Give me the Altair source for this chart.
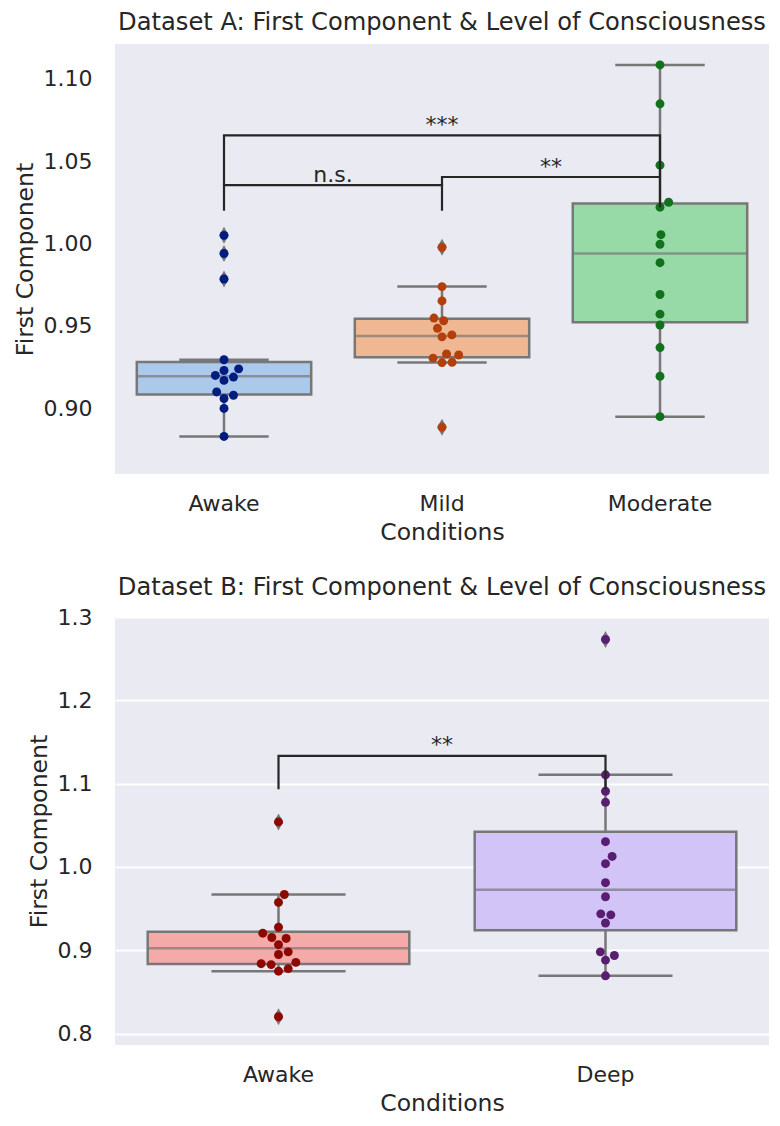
import math
import altair as alt
import pandas as pd

# ---------------- data ----------------
A_CATS = ["Awake", "Mild", "Moderate"]
A_AWAKE = [1.005, 0.994, 0.9785, 0.9295, 0.924, 0.923, 0.920, 0.919, 0.917, 0.910, 0.908, 0.906, 0.900, 0.883]
A_MILD = [0.9978, 0.9739, 0.9652, 0.9548, 0.9532, 0.9486, 0.9446, 0.9434, 0.9330, 0.9324, 0.9305, 0.9280, 0.9278, 0.8886]
A_MODERATE = [1.1084, 1.0848, 1.0476, 1.0251, 1.0221, 1.0054, 0.9996, 0.9884, 0.9691, 0.9572, 0.9506, 0.9369, 0.9195, 0.8950]

B_CATS = ["Awake", "Deep"]
B_AWAKE = [1.0540, 0.9669, 0.9575, 0.9276, 0.9205, 0.9153, 0.9142, 0.9067, 0.8981, 0.8949, 0.8855, 0.8839, 0.8828, 0.8780, 0.8749, 0.8202]
B_DEEP = [1.2731, 1.1106, 1.0909, 1.0776, 1.0303, 1.0126, 1.0039, 0.9811, 0.9642, 0.9437, 0.9425, 0.9327, 0.8981, 0.8937, 0.8882, 0.8693]

# significance brackets
A_BR_LEFT = ["Awake", "Mild", "Awake"]
A_BR_RIGHT = ["Mild", "Moderate", "Moderate"]
A_BR_LOW_L = [1.0199, 1.0355, 1.0355]
A_BR_TOP = [1.0355, 1.0404, 1.0657]
A_BR_LOW_R = [1.0199, 1.0220, 1.0404]
A_BR_TEXT = ["n.s.", "**", "***"]

B_BR_LEFT = ["Awake"]
B_BR_RIGHT = ["Deep"]
B_BR_LOW_L = [1.0933]
B_BR_TOP = [1.1334]
B_BR_LOW_R = [1.0933]
B_BR_TEXT = ["**"]

A_TICKS = [0.90, 0.95, 1.00, 1.05, 1.10]
B_TICKS = [0.8, 0.9, 1.0, 1.1, 1.2, 1.3]
A_DOMAIN = [0.8602, 1.1211]
B_DOMAIN = [0.7863, 1.3]

A_PASTEL = ["#ABC9EA", "#EFB792", "#98DAA7"]
A_DARK = ["#001C7F", "#B1400D", "#12711C"]
B_PASTEL = ["#F3AAA8", "#D3C4F7"]
B_DARK = ["#8C0800", "#591E71"]

TITLE_A = "Dataset A: First Component & Level of Consciousness"
TITLE_B = "Dataset B: First Component & Level of Consciousness"

# ---------------- style ----------------
FONT = "DejaVu Sans"
TXT = "#262626"
GRAY = "#777777"
PLOT_W = 654
H_A = 430
H_B = 428
SPACING = 143
DIAM = 9.6
DIAMOND = "M0,-1L0.55,0L0,1L-0.55,0Z"


def swarm(values, ppu, band_px):
    n = len(values)
    order = sorted(range(n), key=lambda i: values[i])
    placed = []
    offs = [0.0] * n
    for i in order:
        y = values[i] * ppu
        cands = [0.0]
        right_first = True
        for (px, py) in placed:
            dy = y - py
            if abs(dy) < DIAM:
                dx = math.sqrt(DIAM * DIAM - dy * dy) * 1.05
                pair = [px + dx, px - dx] if right_first else [px - dx, px + dx]
                cands.extend(pair)
                right_first = not right_first
        for c in sorted(cands, key=abs):
            if all((c - px) ** 2 + (y - py) ** 2 >= DIAM * DIAM * 0.999 for px, py in placed):
                offs[i] = c
                placed.append((c, y))
                break
    return [o / band_px for o in offs]


def panel(cats, groups, pastel, dark, domain, height, ticks, fmt, grid,
          br_left, br_right, br_low_l, br_top, br_low_r, br_text, title, title_offset):
    band = PLOT_W / len(cats)
    ppu = height / (domain[1] - domain[0])

    rows = []
    for c, vals in zip(cats, groups):
        offs = swarm(vals, ppu, band)
        for v, o in zip(vals, offs):
            rows.append({"cond": c, "val": v, "off": o})
    pts = pd.DataFrame(rows)

    lines = []
    texts = []
    for k in range(len(br_left)):
        lines += [
            {"cond": br_left[k], "val": br_low_l[k], "br": k, "idx": 0},
            {"cond": br_left[k], "val": br_top[k], "br": k, "idx": 1},
            {"cond": br_right[k], "val": br_top[k], "br": k, "idx": 2},
            {"cond": br_right[k], "val": br_low_r[k], "br": k, "idx": 3},
        ]
        mid = (cats.index(br_left[k]) + cats.index(br_right[k])) / 2
        base = int(math.floor(mid))
        texts.append({"cond": cats[base], "val": br_top[k], "off": mid - base, "label": br_text[k]})
    lines = pd.DataFrame(lines)
    texts = pd.DataFrame(texts)

    x = alt.X("cond:N", sort=cats, title="Conditions",
              scale=alt.Scale(domain=cats, paddingInner=0, paddingOuter=0),
              axis=alt.Axis(labelAngle=0))
    y = alt.Y("val:Q", title="First Component",
              scale=alt.Scale(domain=domain, nice=False, zero=False),
              axis=alt.Axis(values=ticks, format=fmt, grid=grid))
    xoff = alt.XOffset("off:Q", scale=alt.Scale(domain=[-0.5, 0.5], range=[0, band]))

    box = alt.Chart(pts).mark_boxplot(
        extent=1.5,
        size=0.8 * band,
        box={"stroke": GRAY, "strokeWidth": 2.5},
        median={"color": GRAY, "thickness": 2.5},
        rule={"color": GRAY, "strokeWidth": 2.5},
        ticks={"color": GRAY, "size": 0.41 * band, "thickness": 2.5},
        outliers=False,
    ).encode(
        x=x, y=y,
        color=alt.Color("cond:N", scale=alt.Scale(domain=cats, range=pastel), legend=None),
    )

    # fliers: values beyond 1.5 IQR, computed from the data by Vega-Lite
    fliers = alt.Chart(pts).transform_joinaggregate(
        q1="q1(val)", q3="q3(val)", groupby=["cond"]
    ).transform_filter(
        "datum.val < datum.q1 - 1.5*(datum.q3-datum.q1) || datum.val > datum.q3 + 1.5*(datum.q3-datum.q1)"
    ).mark_point(shape=DIAMOND, filled=True, color=GRAY, size=289, opacity=1).encode(x=x, y=y)

    dots = alt.Chart(pts).mark_circle(size=80, opacity=1).encode(
        x=x, y=y, xOffset=xoff,
        color=alt.Color("cond:N", scale=alt.Scale(domain=cats, range=dark), legend=None),
    )

    brk = alt.Chart(lines).mark_line(color=TXT, strokeWidth=2.2).encode(
        x=x, y=y, detail="br:N", order="idx:Q",
    )

    lab = alt.Chart(texts).mark_text(
        baseline="alphabetic", dy=-3.5, fontSize=22, font=FONT, color=TXT
    ).encode(x=x, y=y, xOffset=xoff, text="label:N")

    return alt.layer(box, fliers, dots, brk, lab).resolve_scale(color="independent").properties(
        width=PLOT_W, height=height,
        title=alt.TitleParams(title, fontSize=24.2, font=FONT, color=TXT, frame="group",
                              fontWeight="normal", anchor="middle", offset=title_offset),
    )


top = panel(A_CATS, [A_AWAKE, A_MILD, A_MODERATE], A_PASTEL, A_DARK, A_DOMAIN, H_A,
            A_TICKS, ".2f", False,
            A_BR_LEFT, A_BR_RIGHT, A_BR_LOW_L, A_BR_TOP, A_BR_LOW_R, A_BR_TEXT, TITLE_A, 9)
bottom = panel(B_CATS, [B_AWAKE, B_DEEP], B_PASTEL, B_DARK, B_DOMAIN, H_B,
               B_TICKS, ".1f", True,
               B_BR_LEFT, B_BR_RIGHT, B_BR_LOW_L, B_BR_TOP, B_BR_LOW_R, B_BR_TEXT, TITLE_B, 6)

chart = alt.vconcat(top, bottom, spacing=SPACING, bounds="flush").resolve_scale(
    xOffset="independent", x="independent", y="independent"
).properties(
    padding={"left": 5, "top": 2, "right": 0, "bottom": 2},
    background="white",
).configure_view(
    fill="#EAEAF2", stroke=None,
).configure_axis(
    labelFont=FONT, titleFont=FONT, labelFontSize=22, titleFontSize=23.5,
    labelColor=TXT, titleColor=TXT, titleFontWeight="normal",
    domain=False, ticks=False, tickSize=0,
    gridColor="white", gridWidth=1.8,
).configure_axisY(
    labelPadding=23, titlePadding=6,
).configure_axisX(
    labelPadding=19, titlePadding=6.5,
)

chart.save("out.html", embed_options={"renderer": "svg", "actions": False})
